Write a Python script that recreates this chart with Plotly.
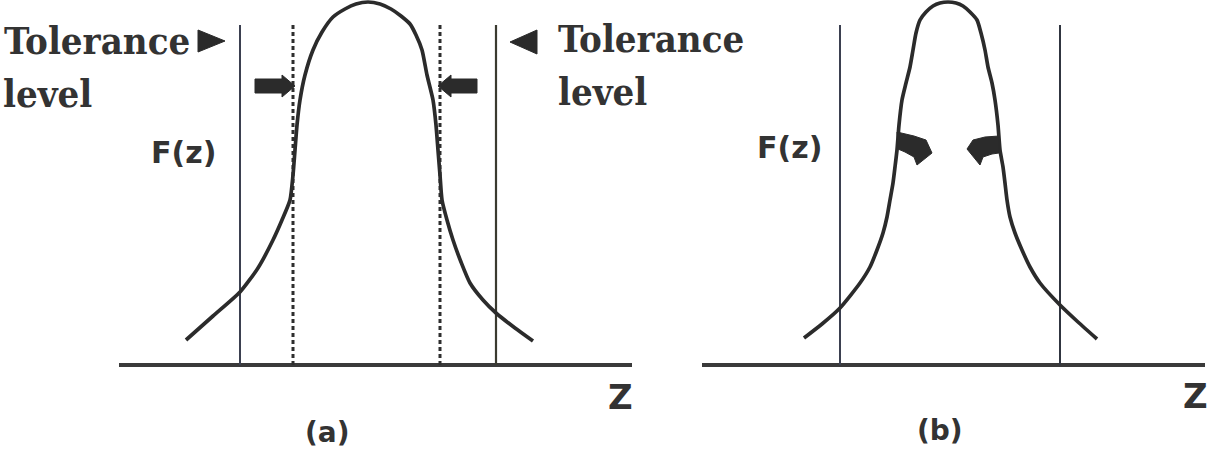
import plotly.graph_objects as go

# ---- data (x in page units, F = height above the Z axis) ----
curve_a_x = [186, 213, 240, 258, 273, 282, 290, 293, 295, 297, 300, 305, 313, 322, 333, 345, 356, 368,
             380, 391, 401, 410, 416, 422, 427, 433, 436, 438, 440, 442, 447, 453, 461, 470, 483, 496, 515, 533]
curve_a_F = [25, 49, 73, 97, 125, 145, 165, 190, 215, 240, 265, 290, 315, 333, 348, 356, 361, 363,
             361, 356, 349, 341, 330, 315, 290, 265, 240, 215, 190, 165, 145, 125, 103, 82, 65, 52, 37, 24]

curve_b_x = [804, 822, 840, 860, 870, 877, 883, 887, 890, 893, 895, 897, 899, 902, 906, 910, 913, 916, 920,
             926, 933, 940, 948, 956, 963, 970, 977, 981, 985, 988, 992, 995, 998, 1000, 1003, 1005, 1007,
             1010, 1015, 1022, 1030, 1040, 1060, 1078, 1097]
curve_b_F = [27, 41, 57, 82, 98, 115, 132, 148, 165, 182, 198, 215, 240, 265, 282, 298, 315, 332, 345,
             353, 359, 362, 363, 362, 359, 353, 345, 332, 315, 298, 282, 265, 240, 215, 198, 182, 165,
             148, 132, 115, 98, 82, 60, 43, 26]

axis_a = [119, 632]
axis_b = [702, 1205]
tol_a = [240, 496]        # solid tolerance lines, panel (a)
shrunk_a = [293, 440]     # dotted lines, panel (a)
tol_b = [840, 1060]       # solid tolerance lines, panel (b)
line_top = 340            # height of the vertical lines

DARK = "#2b2b2b"
TXT = "#333333"

fig = go.Figure()

def line(xs, ys, width, color, dash=None, shape="linear", smoothing=None):
    ln = dict(width=width, color=color, dash=dash, shape=shape)
    if smoothing is not None:
        ln["smoothing"] = smoothing
    fig.add_trace(go.Scatter(x=xs, y=ys, mode="lines", hoverinfo="skip", line=ln, showlegend=False))

# Z axes
line(axis_a, [0, 0], 4, "#3a3a3a")
line(axis_b, [0, 0], 4, "#3a3a3a")
# tolerance lines
line([tol_a[0]] * 2, [0, line_top], 2, "#3b4050")
line([tol_a[1]] * 2, [0, line_top], 2.2, "#3a3a30")
line([shrunk_a[0]] * 2, [0, line_top], 3, "#2e2e2e", dash="4px,3px")
line([shrunk_a[1]] * 2, [0, line_top], 3, "#2e2e2e", dash="4px,3px")
line([tol_b[0]] * 2, [0, line_top], 2, "#3b4050")
line([tol_b[1]] * 2, [0, line_top], 2, "#303540")
# curves
line(curve_a_x, curve_a_F, 3.7, DARK, shape="spline", smoothing=0.6)
line(curve_b_x, curve_b_F, 3.7, DARK, shape="spline", smoothing=0.6)

def F(ypix):
    return 365 - ypix

def poly(pts, color=DARK):
    d = "M " + " L ".join(f"{x},{F(y)}" for x, y in pts) + " Z"
    fig.add_shape(type="path", path=d, xref="x", yref="y",
                  fillcolor=color, line=dict(color=color, width=1))

# straight block arrows in (a)
def block_arrow(x0, x1, yp):
    s = 1 if x1 > x0 else -1
    hx = x1 - s * 13
    poly([(x0, yp - 7), (hx, yp - 7), (hx, yp - 11), (x1, yp), (hx, yp + 11), (hx, yp + 7), (x0, yp + 7)])

block_arrow(255, 295, 86)
block_arrow(477, 438, 86)
# curved arrows in (b)
poly([(897, 132), (914, 136), (926, 140), (932, 153), (917, 165), (914, 157), (905, 152), (898, 149)])
poly([(999, 136), (985, 137), (973, 140), (967, 149), (980, 165), (983, 157), (992, 154), (999, 153)])
# triangles next to "Tolerance"
poly([(198, 30), (225, 41), (198, 52)], "#2a2a2a")
poly([(537, 30), (510, 42), (537, 54)], "#2a2a2a")

serif = dict(family="DejaVu Serif Condensed, DejaVu Serif", size=38, color=TXT)
sans = dict(family="DejaVu Sans", size=30, color=TXT)

def text(x, ypix, s, font, xanchor="left", bold=True):
    fig.add_annotation(x=x, y=F(ypix), text=f"<b>{s}</b>" if bold else s, showarrow=False,
                       xanchor=xanchor, yanchor="middle", font=font, xref="x", yref="y")

text(2, 40, "Tolerance", serif)
text(0.5, 93, "level", serif)
text(556, 38, "Tolerance", serif)
text(556, 91, "level", serif)
text(149, 152, "F(z)", dict(sans, size=30))
text(755, 147, "F(z)", dict(sans, size=30))
text(620, 397, "Z", dict(sans, size=34), xanchor="center")
text(1195, 396, "Z", dict(sans, size=34), xanchor="center")
text(327, 432, "(a)", dict(sans, size=28), xanchor="center")
text(940, 430, "(b)", dict(sans, size=28), xanchor="center")

fig.update_layout(width=1215, height=464, margin=dict(l=0, r=0, t=0, b=0),
                  plot_bgcolor="white", paper_bgcolor="white", showlegend=False)
fig.update_xaxes(range=[0, 1215], visible=False, fixedrange=True)
fig.update_yaxes(range=[F(464), F(0)], visible=False, fixedrange=True)

fig.write_html("out.html")
